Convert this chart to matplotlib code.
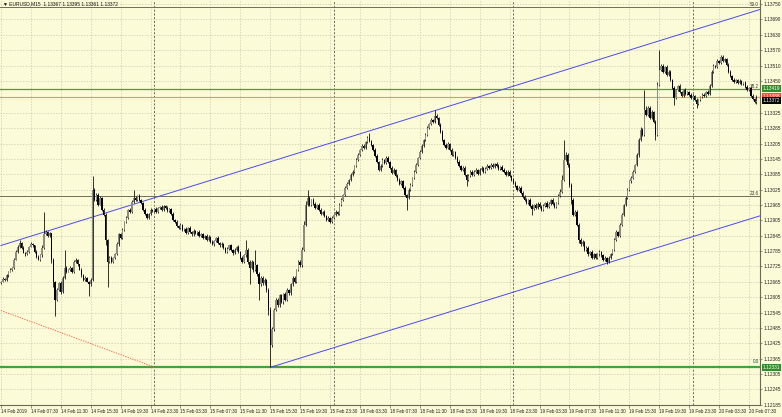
import numpy as np
import matplotlib.pyplot as plt
import matplotlib.transforms as mtransforms

plt.rcParams['font.family'] = ['Liberation Sans', 'DejaVu Sans']

# EURUSD M15 candles, 14 Feb 2019 03:30 -> 20 Feb 08:30
# closes in points above 1.12000 (i.e. 666 -> 1.12666)
close_pts = [
    666, 678, 674, 690, 705, 713, 721, 752, 783, 803, 818, 799, 779, 772, 783, 803, 814, 807, 783, 764,
    752, 768, 799, 850, 861, 846, 854, 752, 666, 596, 635, 662, 627, 682, 721, 705, 713, 721, 705, 744,
    752, 733, 713, 690, 674, 682, 666, 655, 674, 1025, 986, 1006, 967, 994, 947, 928, 830, 744, 760, 744,
    760, 772, 811, 850, 838, 869, 900, 916, 947, 939, 978, 994, 986, 1002, 986, 974, 947, 931, 916, 931,
    947, 943, 951, 939, 955, 959, 947, 963, 955, 943, 951, 931, 908, 900, 885, 877, 889, 869, 873, 857,
    877, 861, 850, 865, 854, 861, 846, 850, 838, 846, 830, 842, 822, 811, 826, 838, 818, 807, 814, 799,
    783, 795, 807, 791, 776, 791, 803, 783, 760, 744, 768, 791, 744, 721, 744, 713, 729, 694, 655, 682,
    659, 674, 635, 557, 420, 479, 557, 596, 573, 612, 588, 616, 596, 635, 620, 655, 682, 666, 713, 744,
    729, 791, 889, 967, 994, 967, 986, 971, 955, 967, 947, 931, 939, 924, 908, 916, 900, 916, 928, 939,
    931, 967, 986, 1006, 1033, 1049, 1064, 1084, 1096, 1119, 1142, 1162, 1181, 1197, 1189, 1213, 1228, 1216, 1201, 1181,
    1158, 1134, 1103, 1119, 1142, 1130, 1150, 1134, 1111, 1092, 1103, 1080, 1064, 1049, 1057, 1033, 1006, 994, 1025, 1045,
    1072, 1096, 1123, 1150, 1173, 1197, 1220, 1240, 1267, 1282, 1298, 1290, 1314, 1306, 1279, 1252, 1220, 1201, 1189, 1205,
    1181, 1162, 1173, 1150, 1134, 1119, 1103, 1111, 1084, 1064, 1080, 1096, 1084, 1096, 1103, 1088, 1103, 1111, 1096, 1107,
    1119, 1111, 1123, 1115, 1127, 1119, 1107, 1115, 1103, 1096, 1084, 1096, 1080, 1064, 1053, 1041, 1025, 1033, 1014, 998,
    986, 974, 986, 963, 951, 967, 955, 971, 959, 947, 963, 974, 959, 971, 986, 971, 959, 974, 1002, 1017,
    1064, 1142, 1162, 1123, 1045, 986, 928, 939, 889, 830, 811, 822, 791, 799, 772, 783, 760, 772, 760, 772,
    783, 768, 752, 760, 744, 760, 772, 791, 830, 861, 846, 889, 928, 967, 994, 1025, 1057, 1072, 1096, 1123,
    1162, 1220, 1259, 1240, 1337, 1318, 1345, 1306, 1329, 1290, 1240, 1434, 1493, 1509, 1486, 1505, 1474, 1486, 1454, 1423,
    1384, 1415, 1431, 1407, 1392, 1415, 1399, 1407, 1396, 1384, 1392, 1376, 1360, 1376, 1388, 1396, 1392, 1407, 1399, 1431,
    1486, 1509, 1505, 1528, 1520, 1544, 1528, 1536, 1513, 1486, 1470, 1454, 1446, 1454, 1442, 1450, 1438, 1442, 1427, 1415,
    1423, 1392, 1380, 1367, 1372,
]
# upper / lower shadow length in points
up_pts = [
    4, 6, 3, 5, 4, 7, 3, 5, 6, 4, 12, 3, 5, 4, 6, 3, 5, 4, 3, 6,
    4, 5, 8, 89, 6, 4, 7, 3, 5, 4, 6, 3, 5, 4, 70, 5, 4, 6, 3, 5,
    6, 4, 3, 5, 4, 6, 3, 4, 5, 55, 8, 6, 5, 7, 4, 5, 6, 4, 5, 6,
    4, 5, 10, 6, 4, 5, 3, 6, 4, 5, 7, 31, 5, 4, 6, 3, 4, 5, 3, 4,
    5, 3, 4, 6, 3, 4, 5, 3, 4, 6, 3, 4, 5, 3, 6, 4, 5, 3, 4, 5,
    4, 6, 3, 5, 4, 3, 6, 4, 5, 3, 4, 6, 3, 5, 4, 3, 6, 4, 5, 3,
    4, 6, 3, 5, 4, 6, 3, 5, 4, 7, 6, 39, 5, 8, 6, 4, 62, 5, 8, 6,
    5, 7, 4, 6, 8, 10, 6, 5, 7, 4, 6, 5, 8, 6, 4, 7, 5, 6, 4, 8,
    6, 10, 15, 12, 31, 6, 4, 5, 7, 4, 5, 6, 4, 5, 3, 6, 4, 5, 3, 6,
    4, 6, 5, 4, 6, 5, 4, 6, 5, 4, 6, 5, 4, 6, 5, 4, 8, 19, 5, 4,
    6, 5, 4, 7, 5, 4, 6, 5, 4, 6, 5, 4, 6, 5, 4, 6, 5, 4, 6, 5,
    4, 6, 5, 4, 6, 5, 4, 6, 5, 4, 6, 5, 23, 5, 4, 6, 5, 4, 6, 5,
    4, 6, 5, 4, 6, 5, 4, 6, 5, 4, 6, 5, 4, 6, 5, 4, 6, 5, 4, 6,
    5, 4, 6, 5, 4, 6, 5, 4, 6, 5, 4, 6, 5, 4, 6, 5, 4, 6, 5, 4,
    6, 5, 4, 6, 5, 4, 6, 5, 4, 6, 5, 4, 6, 5, 4, 6, 5, 4, 6, 10,
    20, 78, 10, 8, 6, 5, 7, 6, 5, 4, 6, 5, 4, 6, 5, 4, 6, 5, 4, 6,
    5, 4, 6, 5, 4, 6, 5, 4, 6, 5, 4, 6, 5, 4, 6, 5, 4, 6, 5, 4,
    6, 8, 10, 6, 78, 15, 8, 6, 7, 5, 6, 10, 78, 8, 6, 5, 7, 6, 5, 4,
    6, 5, 4, 6, 5, 4, 6, 5, 4, 6, 5, 4, 6, 5, 4, 6, 5, 4, 6, 5,
    6, 5, 4, 6, 5, 8, 6, 5, 4, 6, 5, 4, 6, 5, 4, 6, 5, 4, 6, 5,
    4, 6, 5, 4, 23,
]
dn_pts = [
    5, 3, 6, 4, 5, 3, 6, 4, 3, 5, 4, 6, 3, 5, 4, 6, 3, 5, 4, 6,
    3, 5, 4, 6, 3, 5, 4, 15, 20, 66, 6, 4, 8, 5, 4, 6, 3, 5, 4, 6,
    4, 6, 3, 5, 4, 6, 3, 47, 5, 6, 5, 4, 6, 3, 5, 6, 20, 101, 6, 5,
    5, 6, 4, 5, 6, 4, 5, 6, 4, 5, 6, 4, 5, 6, 4, 5, 6, 4, 5, 6,
    4, 5, 6, 4, 5, 6, 4, 5, 6, 4, 5, 6, 4, 5, 6, 4, 5, 6, 4, 5,
    6, 4, 5, 6, 4, 5, 6, 4, 5, 6, 4, 5, 6, 4, 5, 6, 4, 5, 6, 4,
    5, 6, 4, 5, 6, 4, 5, 6, 4, 5, 6, 4, 8, 66, 6, 8, 5, 6, 59, 8,
    6, 5, 10, 20, 89, 8, 6, 5, 7, 6, 5, 8, 6, 5, 7, 6, 5, 6, 4, 5,
    6, 5, 4, 6, 5, 4, 6, 5, 4, 6, 5, 4, 6, 5, 4, 6, 5, 4, 6, 5,
    4, 6, 5, 4, 6, 5, 4, 6, 5, 4, 6, 5, 4, 6, 5, 4, 6, 5, 4, 6,
    5, 4, 6, 5, 4, 6, 5, 4, 6, 5, 4, 6, 5, 4, 6, 5, 4, 47, 5, 4,
    6, 5, 4, 6, 5, 4, 6, 5, 4, 6, 5, 4, 6, 5, 4, 6, 5, 4, 6, 5,
    4, 6, 5, 4, 6, 5, 4, 6, 5, 23, 6, 5, 4, 6, 5, 4, 6, 5, 4, 6,
    5, 4, 6, 5, 4, 6, 5, 4, 6, 5, 4, 6, 5, 4, 6, 5, 4, 6, 5, 4,
    6, 5, 4, 6, 23, 4, 6, 5, 4, 6, 5, 4, 6, 5, 4, 6, 5, 4, 6, 5,
    4, 6, 5, 8, 10, 15, 6, 5, 7, 15, 6, 5, 4, 6, 5, 4, 6, 5, 4, 6,
    5, 4, 6, 5, 10, 6, 5, 4, 6, 5, 4, 6, 5, 4, 6, 5, 4, 6, 5, 4,
    6, 10, 5, 6, 5, 4, 6, 5, 4, 6, 20, 5, 4, 6, 5, 4, 6, 5, 4, 6,
    27, 5, 4, 6, 5, 4, 6, 5, 4, 6, 5, 4, 15, 5, 4, 6, 5, 4, 6, 5,
    4, 6, 5, 4, 6, 5, 4, 6, 5, 4, 6, 5, 4, 6, 5, 4, 6, 5, 4, 6,
    5, 4, 6, 5, 6,
]
first_open = 1.12660

# time axis labels, one every 16 bars
xtick_labels = ["14 Feb 2019", "14 Feb 07:30", "14 Feb 11:30", "14 Feb 15:30", "14 Feb 19:30",
                "14 Feb 23:30", "15 Feb 03:30", "15 Feb 07:30", "15 Feb 11:30", "15 Feb 15:30",
                "15 Feb 19:30", "15 Feb 23:30", "18 Feb 03:30", "18 Feb 07:30", "18 Feb 11:30",
                "18 Feb 15:30", "18 Feb 19:30", "18 Feb 23:30", "19 Feb 03:30", "19 Feb 07:30",
                "19 Feb 11:30", "19 Feb 15:30", "19 Feb 19:30", "19 Feb 23:30", "20 Feb 03:30",
                "20 Feb 07:30"]
day_breaks = [82, 178, 274, 370]   # bar index of 00:00 each day

price_ticks = [1.13750, 1.13690, 1.13630, 1.13570, 1.13510, 1.13450, 1.13325, 1.13265, 1.13205,
               1.13145, 1.13085, 1.13025, 1.12965, 1.12905, 1.12845, 1.12785, 1.12725, 1.12665,
               1.12605, 1.12545, 1.12485, 1.12425, 1.12365, 1.12305, 1.12245, 1.12185]

# objects on the chart (prices)
fib_names = ["0.0", "23.6", "38.2", "50.0"]
fib_prices = [1.12345, 1.13002, 1.13419, 1.13738]
fib_diag_x, fib_diag_y = [0, 82.5], [1.12553, 1.12331]
chan_up_x, chan_up_y = [0, 406.4], [1.12807, 1.13730]
chan_lo_x, chan_lo_y = [144, 406.4], [1.12331, 1.12924]
hline_green = [1.13419, 1.12331]
ask_price = 1.13388
bid_price = 1.13372
header = "\u25bc EURUSD,M15  1.13367 1.13395 1.13361 1.13372"

bg = "#fbfbd7"
closes = 1.12 + np.array(close_pts) / 1e5
opens = np.concatenate([[first_open], closes[:-1]])
highs = np.maximum(opens, closes) + np.array(up_pts) / 1e5
lows = np.minimum(opens, closes) - np.array(dn_pts) / 1e5
idx = np.arange(len(closes))

fig = plt.figure(figsize=(7.82, 4.17), dpi=100, facecolor=bg)
ax = fig.add_axes([0, 12 / 417, 760 / 782, 405 / 417])
ax.set_facecolor(bg)

# grid and day separators
ax.set_xticks(np.arange(0, len(xtick_labels) * 16, 16))
ax.set_xticklabels(xtick_labels)
ax.set_yticks(price_ticks)
ax.set_yticklabels(["%.5f" % p for p in price_ticks])
ax.grid(True, color="#c9c9b0", linestyle=(0, (2, 2)), linewidth=0.5)
for d in day_breaks:
    ax.axvline(d, color="#55554a", linestyle=(0, (2.5, 2)), linewidth=0.6, zorder=1)

# horizontal lines, fibo levels, channel
for name, lvl in zip(fib_names, fib_prices):
    if name != "0.0":
        ax.axhline(lvl, color="#6f6f58", linewidth=0.7, zorder=2)
    ax.text(405.3, lvl, name, fontsize=3.3, color="#3a3a30",
            ha="right", va="bottom", zorder=6)
ax.axhline(hline_green[0], color="#4f9a44", linewidth=0.9, zorder=2)
ax.axhline(hline_green[1], color="#3fa53a", linewidth=1.6, zorder=2)
ax.axhline(ask_price, color="#ff8a6a", linewidth=0.8, zorder=2)
ax.plot(fib_diag_x, fib_diag_y, color="#ff4a3a", linestyle=(0, (1.5, 1.5)), linewidth=0.6, zorder=2)
ax.plot(chan_up_x, chan_up_y, color="#4a4af0", linewidth=0.7, zorder=2)
ax.plot(chan_lo_x, chan_lo_y, color="#4a4af0", linewidth=0.7, zorder=2)

# candles
ax.vlines(idx, lows, highs, color="#111111", linewidth=0.6, zorder=3)
body_col = np.where(closes >= opens, "#8c8c80", "#000000")
heights = np.maximum(np.abs(closes - opens), 0.000012)
ax.bar(idx, heights, bottom=np.minimum(opens, closes), width=0.75,
       color=body_col, linewidth=0, zorder=4)

ax.set_xlim(-0.5, 405.9)
ax.set_ylim(1.12184, 1.137659)

# axes styling
for side in ["left", "top"]:
    ax.spines[side].set_visible(False)
for side in ["right", "bottom"]:
    ax.spines[side].set_color("#6a6a58")
    ax.spines[side].set_linewidth(0.8)
ax.yaxis.tick_right()
ax.tick_params(axis="y", labelsize=3.4, length=1.5, width=0.5, pad=0.8, colors="#6a6a58",
               labelcolor="#222222")
ax.tick_params(axis="x", labelsize=3.3, length=2, width=0.5, pad=0.8, colors="#6a6a58",
               labelcolor="#222222")
for lab in ax.get_xticklabels():
    lab.set_ha("left")

# price boxes on the scale
tr = mtransforms.blended_transform_factory(ax.transAxes, ax.transData)
boxes = [(hline_green[0], "#2f8f2a", 7), (ask_price, "#ff4a2a", 7), (bid_price, "#000000", 8),
         (hline_green[1], "#2f8f2a", 7)]
for price, col, z in boxes:
    ax.text(1.0035, price, "%.5f" % price, transform=tr, fontsize=3.4, color="white",
            ha="left", va="center", zorder=z, clip_on=False,
            bbox=dict(boxstyle="square,pad=0.2", fc=col, ec="none"))

fig.text(0.004, 0.997, header, fontsize=3.5, color="#111111", ha="left", va="top")

fig.savefig("out.png", dpi=100, facecolor=bg)
